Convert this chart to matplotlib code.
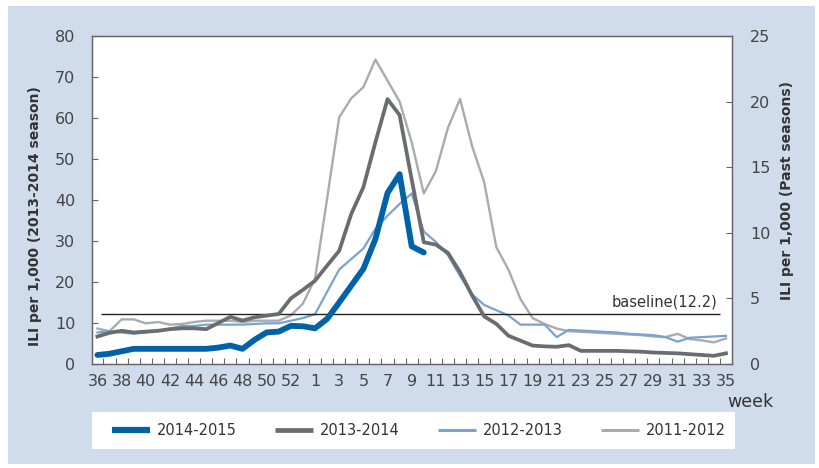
import numpy as np
import matplotlib
matplotlib.use('Agg')
import matplotlib.pyplot as plt
from matplotlib.patches import Rectangle

# ILI per 1,000 by week (week 36 .. week 35 of next year)
weeks = list(range(36, 54)) + list(range(1, 36))

# left axis
season_2014_15 = [2.2, 2.5, 3.1, 3.7, 3.7, 3.7, 3.7, 3.7, 3.7, 3.7, 4.0, 4.5, 3.7, 5.9,
                  7.7, 7.9, 9.3, 9.2, 8.7, 11.0, 15.0, 19.1, 23.2, 30.5, 41.7, 46.3, 28.7, 27.2]
season_2013_14 = [6.7, 7.6, 8.1, 7.7, 7.9, 8.1, 8.5, 8.7, 8.7, 8.5, 10.0, 11.5, 10.6, 11.4,
                  11.8, 12.2, 16.0, 18.1, 20.3, 24.0, 27.6, 36.6, 43.1, 54.1, 64.6, 60.7, 45.0,
                  29.7, 29.1, 27.1, 22.4, 16.7, 11.6, 9.8, 6.9, 5.7, 4.5, 4.3, 4.2, 4.6,
                  3.2, 3.2, 3.2, 3.2, 3.1, 3.0, 2.8, 2.7, 2.6, 2.4, 2.2, 2.0, 2.6]

# right axis (past seasons)
season_2012_13 = [2.4, 2.5, 2.4, 2.3, 2.4, 2.5, 2.7, 2.9, 2.9, 3.0, 3.0, 3.0, 3.0, 3.05,
                  3.1, 3.1, 3.3, 3.5, 3.8, 5.5, 7.2, 8.0, 8.8, 10.3, 11.3, 12.2, 13.0,
                  10.1, 9.3, 8.3, 6.7, 5.3, 4.5, 4.1, 3.7, 3.0, 3.0, 3.0, 2.05, 2.6,
                  2.55, 2.5, 2.45, 2.4, 2.3, 2.25, 2.2, 2.05, 1.7, 2.0, 2.05, 2.1, 2.15]
season_2011_12 = [2.7, 2.5, 3.4, 3.4, 3.1, 3.2, 3.0, 3.05, 3.2, 3.3, 3.3, 3.3, 3.2, 3.3,
                  3.3, 3.3, 3.7, 4.6, 6.5, 12.6, 18.8, 20.25, 21.1, 23.2, 21.6, 20.0, 16.9,
                  13.0, 14.7, 18.0, 20.2, 16.6, 13.85, 8.9, 7.2, 4.95, 3.5, 3.05, 2.7, 2.5,
                  2.45, 2.4, 2.35, 2.3, 2.25, 2.2, 2.1, 2.05, 2.3, 1.9, 1.8, 1.65, 1.95]

baseline = 12.2

W, H = 819, 468
bg = '#d0dcec'
txt = '#444444'
plt.rcParams['font.family'] = ['DejaVu Sans']

fig = plt.figure(figsize=(W / 100, H / 100), dpi=100)
fig.add_artist(Rectangle((8 / W, 4 / H), 807 / W, 458 / H, transform=fig.transFigure,
                         facecolor=bg, edgecolor='none', zorder=-5))
# white legend box
fig.add_artist(Rectangle((92 / W, 1 - 449 / H), 643 / W, 37 / H, transform=fig.transFigure,
                         facecolor='white', edgecolor='none', zorder=-4))

ax = fig.add_axes([92 / W, 1 - 364 / H, 640 / W, 328 / H])
ax2 = ax.twinx()
ax.set_zorder(ax2.get_zorder() + 1)
ax.patch.set_visible(False)
ax2.patch.set_visible(True)
ax2.patch.set_facecolor('white')

x = np.arange(len(weeks))

l4, = ax2.plot(x, season_2011_12, color='#a9abae', lw=1.7, label='2011-2012')
l3, = ax2.plot(x, season_2012_13, color='#7aa2d3', lw=1.6, label='2012-2013')
l2, = ax.plot(x, season_2013_14, color='#6b6c6f', lw=2.7, label='2013-2014')
l1, = ax.plot(x[:len(season_2014_15)], season_2014_15, color='#0063a7', lw=4.2,
              label='2014-2015', solid_capstyle='round')

ax.hlines(baseline, 0.3, 51.5, color='#222222', lw=1.0, zorder=1)
ax.text(51.3, baseline + 1.0, f'baseline({baseline})', ha='right', va='bottom',
        fontsize=10.5, color='#333333')

ax.set_xlim(-0.45, 52.5)
ax.set_ylim(0, 80)
ax2.set_ylim(0, 25)
ax.set_yticks(np.arange(0, 81, 10))
ax2.set_yticks(np.arange(0, 26, 5))

ax.set_xticks(x[::2])
ax.set_xticklabels([str(w) for w in weeks[::2]])
ax.set_xticks(x[:-1] + 0.5, minor=True)
ax.tick_params(axis='x', which='major', length=0, pad=7, labelsize=11.5, colors=txt)
ax.tick_params(axis='x', which='minor', direction='in', length=4, width=0.8, color='#666666')
ax.tick_params(axis='y', direction='in', length=4, width=0.8, color='#666666',
               labelsize=11.5, labelcolor=txt, pad=12)
ax2.tick_params(axis='y', direction='in', length=4, width=0.8, color='#666666',
                labelsize=11.5, labelcolor=txt, pad=13)

for a in (ax, ax2):
    for s in a.spines.values():
        s.set_color('#666666')
        s.set_linewidth(0.9)

fig.text(35 / W, 1 - 216 / H, 'ILI per 1,000 (2013-2014 season)', rotation=90,
         ha='center', va='center', fontsize=10, fontweight='bold', color='#333333')
fig.text(787 / W, 1 - 190 / H, 'ILI per 1,000 (Past seasons)', rotation=90,
         ha='center', va='center', fontsize=10, fontweight='bold', color='#333333')
fig.text(750 / W, 1 - 402 / H, 'week', ha='center', va='center', fontsize=12.5,
         color='#333333')

leg = fig.legend([l1, l2, l3, l4], ['2014-2015', '2013-2014', '2012-2013', '2011-2012'],
                 loc='center left', bbox_to_anchor=(112 / W, 1 - 449 / H, 614 / W, 37 / H),
                 mode='expand', ncol=4, frameon=False, handlelength=2.6,
                 handletextpad=0.5, fontsize=10.5, borderpad=0, borderaxespad=0)
for t in leg.get_texts():
    t.set_color('#333333')
for h, lw in zip(leg.get_lines(), [4.5, 3.4, 2.2, 2.2]):
    h.set_linewidth(lw)
    h.set_solid_capstyle('butt')

fig.savefig('out.png', dpi=100, facecolor='white')
